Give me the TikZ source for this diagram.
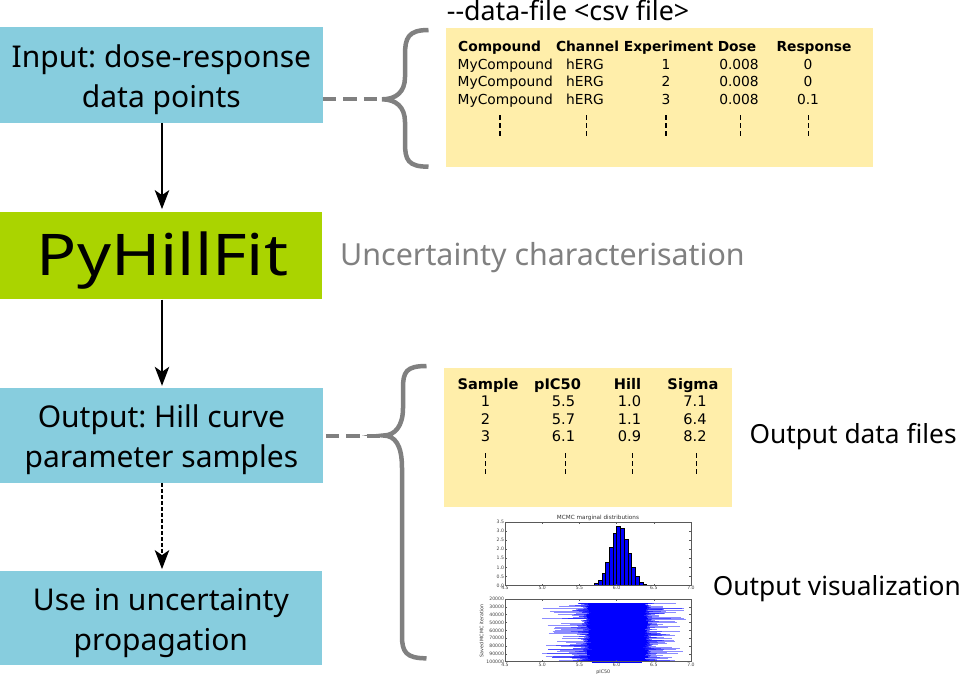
\documentclass[tikz,border=0pt]{standalone}
\usepackage{fontspec}
\setmainfont{Noto Sans}
\newfontfamily\dejavu{DejaVu Sans}
\newfontfamily\widesans[FakeStretch=1.16]{Noto Sans}
\usetikzlibrary{arrows.meta}
\definecolor{boxblue}{HTML}{87CDDE}
\definecolor{boxgreen}{HTML}{AAD400}
\definecolor{tabyellow}{HTML}{FFEEAA}
\definecolor{bracegray}{HTML}{808080}
\definecolor{mplblue}{HTML}{0000FF}
\frenchspacing
\begin{document}
\begin{tikzpicture}[x=1pt,y=-1pt,
  flowbox/.style={draw=none, inner sep=0pt, align=center, font=\fontsize{30}{40}\selectfont},
  flowarrow/.style={line width=1.5pt, -{Stealth[length=19pt,width=14.5pt,inset=5pt]}},
  dasharrow/.style={flowarrow, dash pattern=on 4pt off 2pt},
  bracepath/.style={draw=bracegray, line width=4.5pt},
  braceconn/.style={draw=bracegray, line width=4pt, dash pattern=on 13.5pt off 7pt},
  tabbox/.style={fill=tabyellow, draw=none, inner sep=0pt},
  tabA/.style={font=\dejavu\fontsize{13.8}{16}\selectfont, inner sep=0pt, anchor=base},
  tabAh/.style={tabA, font=\dejavu\bfseries\fontsize{13.8}{16}\selectfont},
  tabB/.style={font=\dejavu\fontsize{14.6}{17}\selectfont, inner sep=0pt, anchor=base},
  tabBh/.style={tabB, font=\dejavu\bfseries\fontsize{14.6}{17}\selectfont},
  vdots/.style={line width=1.6pt, dash pattern=on 5pt off 3pt},
  sidetext/.style={font=\fontsize{26.3}{32}\selectfont, inner sep=0pt, anchor=base west},
  ticklab/.style={font=\dejavu\fontsize{4.6}{5}\selectfont, text=black!75, inner sep=0.8pt},
  axisframe/.style={draw=black!65, line width=0.5pt},
  histbar/.style={fill=mplblue, draw=black, line width=0.25pt},
  traceline/.style={draw=mplblue, line width=0.5pt, draw opacity=0.45},
]
\useasboundingbox (0,0) rectangle (960,681);

% ---------- flow boxes ----------
\node[flowbox, fill=boxblue, minimum width=322.7pt, minimum height=95.3pt] (input) at (161.35,75) {\rule{0pt}{32pt}Input: dose-response\\data points};
\node[draw=none, inner sep=0pt, fill=boxgreen, minimum width=321.7pt, minimum height=87.3pt] (fit) at (160.85,255.65) {};
\node[inner sep=0pt, anchor=base, font=\widesans\fontsize{57.5}{60}\selectfont] (fittext) at (162.5,275) {PyHillFit};
\node[flowbox, fill=boxblue, minimum width=322.7pt, minimum height=94.4pt] (output) at (161.35,435.5) {\rule{0pt}{32pt}Output: Hill curve\\parameter samples};
\node[flowbox, fill=boxblue, minimum width=321.7pt, minimum height=94.3pt] (use) at (160.85,618.15) {\rule{0pt}{32pt}Use in uncertainty\\propagation};

\draw[flowarrow] (input.south -| 162,0) -- ([yshift=2.7pt]fit.north -| 162,0);
\draw[flowarrow] (fit.south -| 162,0) -- ([yshift=2.3pt]output.north -| 162,0);
\draw[dasharrow] (output.south -| 162,0) -- ([yshift=1.7pt]use.north -| 162,0);

\node[sidetext, text=bracegray, font=\fontsize{30.4}{34}\selectfont] (unc) at (340,265.7) {Uncertainty characterisation};

% ---------- braces ----------
\coordinate (tip1) at (382,99.3);
\coordinate (tip2) at (383.3,435.5);
\draw[bracepath] (428.5,30) .. controls (408,30) and (405,38) .. (405,55) -- (405,77)
  .. controls (405,92) and (396,99.3) .. (tip1)
  .. controls (396,99.3) and (405,107) .. (405,122) -- (405,143)
  .. controls (405,160) and (408,166.7) .. (428.5,166.7);
\draw[braceconn] (input.east |- tip1) -- (tip1);
\draw[bracepath] (426.5,366) .. controls (406,366) and (403,372) .. (403,388) -- (403,408)
  .. controls (403,426) and (395,435.5) .. (tip2)
  .. controls (395,435.5) and (402,445) .. (402,468) -- (402,636)
  .. controls (402,652) and (406,658.3) .. (426.5,658.3);
\draw[braceconn] ([xshift=3pt]output.east |- tip2) -- (tip2);

% ---------- table 1 ----------
\node[sidetext, font=\fontsize{26.8}{30}\selectfont] (csvtitle) at (446.7,20.7) {-{}-data-file <csv file>};
\node[tabbox, minimum width=427pt, minimum height=139pt] (csv) at (659.2,97.2) {};
\node[tabAh, anchor=base west] (h11) at (458,51.5) {Compound};
\node[tabAh] (h12) at (587.5,51.5) {Channel};
\node[tabAh] (h13) at (668.5,51.5) {Experiment};
\node[tabAh] (h14) at (737,51.5) {Dose};
\node[tabAh] (h15) at (814,51.5) {Response};
\foreach \r/\yy/\n/\resp in {1/69/1/0, 2/86.5/2/0, 3/104/3/0.1}{
  \node[tabA, anchor=base west] (c\r1) at (457.5,\yy) {MyCompound};
  \node[tabA] (c\r2) at (585,\yy) {hERG};
  \node[tabA] (c\r3) at (666,\yy) {\n};
  \node[tabA] (c\r4) at (739,\yy) {0.008};
  \node[tabA] (c\r5) at (808,\yy) {\resp};
}
\foreach \xx in {500,586.5,666,740.5,808.5}{
  \draw[vdots] (\xx,115) -- (\xx,137);
}

% ---------- table 2 ----------
\node[tabbox, minimum width=288pt, minimum height=139pt] (samples) at (588,437.5) {};
\node[tabBh] (h21) at (488,389.3) {Sample};
\node[tabBh] (h22) at (557.5,389.3) {pIC50};
\node[tabBh] (h23) at (627.5,389.3) {Hill};
\node[tabBh] (h24) at (693,389.3) {Sigma};
\foreach \r/\yy/\a/\b/\c in {1/406.7/5.5/1.0/7.1, 2/424/5.7/1.1/6.4, 3/441.7/6.1/0.9/8.2}{
  \node[tabB] (s\r1) at (485.5,\yy) {\r};
  \node[tabB] (s\r2) at (563.5,\yy) {\a};
  \node[tabB] (s\r3) at (629.5,\yy) {\b};
  \node[tabB] (s\r4) at (695,\yy) {\c};
}
\foreach \xx in {485.5,565.5,632.5,696.5}{
  \draw[vdots] (\xx,453) -- (\xx,474);
}

\node[sidetext] (datafiles) at (749.3,443.3) {Output data files};
\node[sidetext] (visual) at (712.7,595.7) {Output visualization};

% ---------- plot: histogram ----------
\node[font=\dejavu\fontsize{5.7}{6}\selectfont, text=black!80, inner sep=0pt] (ptitle) at (598,518.3) {MCMC marginal distributions};
\begin{scope}[shift={(505,585.5)}]
\begin{scope}[x=74.4pt, y=18.143pt, shift={(-4.5,0)}]
  \foreach \c/\h in {5.575/0.004, 5.625/0.01, 5.675/0.033, 5.725/0.106, 5.775/0.29, 5.825/0.67, 5.875/1.29, 5.925/2.10, 5.975/2.87, 6.025/3.29, 6.075/3.18, 6.125/2.58, 6.175/1.76, 6.225/1.01, 6.275/0.49, 6.325/0.20, 6.375/0.068, 6.425/0.02}{
    \draw[histbar] ({\c-0.025},0) rectangle ({\c+0.025},\h);
  }
  \draw[axisframe] (4.5,0) rectangle (7,3.5);
  \foreach \v in {4.5,5.0,5.5,6.0,6.5,7.0}{
    \draw[axisframe] (\v,0) -- ++(0pt,2pt);
    \draw[axisframe] (\v,3.5) -- ++(0pt,-2pt);
    \node[ticklab, anchor=north] at (\v,0) {\v};
  }
  \foreach \v in {0.0,0.5,1.0,1.5,2.0,2.5,3.0,3.5}{
    \draw[axisframe] (4.5,\v) -- ++(2pt,0pt);
    \draw[axisframe] (7,\v) -- ++(-2pt,0pt);
    \node[ticklab, anchor=east] at (4.5,\v) {\v};
  }
\end{scope}
\end{scope}

% ---------- plot: trace ----------
\begin{scope}[shift={(505,599)}]
\begin{scope}[x=74.4pt, y=-0.78375pt, shift={(-4.5,-20)}]
  \fill[mplblue] (5.68,25) rectangle (6.35,100);
  \pgfmathsetseed{11}
  \foreach \i in {0,...,240}{
    \pgfmathsetmacro\ya{25+\i*0.3125}
    \pgfmathsetmacro\xa{5.6+0.1*rnd}
    \pgfmathsetmacro\xb{6.33+0.09*rnd}
    \pgfmathsetmacro\xl{\xa-0.1*rnd-0.6*pow(rnd,4)}
    \pgfmathsetmacro\xr{\xb+0.08*rnd+0.5*pow(rnd,4)}
    \draw[draw=mplblue, line width=0.4pt] (\xa,\ya) -- (\xb,\ya);
    \draw[traceline] (\xl,\ya) -- (\xr,\ya);
  }
  \draw[axisframe] (4.5,20) rectangle (7,100);
  \foreach \v in {4.5,5.0,5.5,6.0,6.5,7.0}{
    \draw[axisframe] (\v,100) -- ++(0pt,2pt);
    \draw[axisframe] (\v,20) -- ++(0pt,-2pt);
    \node[ticklab, anchor=north] at (\v,100) {\v};
  }
  \foreach \v in {20,30,40,50,60,70,80,90,100}{
    \draw[axisframe] (4.5,\v) -- ++(2pt,0pt);
    \draw[axisframe] (7,\v) -- ++(-2pt,0pt);
    \node[ticklab, anchor=east] at (4.5,\v) {\v000};
  }
\end{scope}
\end{scope}
\node[font=\dejavu\fontsize{4.8}{5}\selectfont, text=black!80, rotate=90, inner sep=0pt] (ylab) at (481.7,631) {Saved MCMC iteration};
\node[font=\dejavu\fontsize{4.8}{5}\selectfont, text=black!80, inner sep=0pt] (xlab) at (603.3,672.7) {pIC50};
\end{tikzpicture}
\end{document}
